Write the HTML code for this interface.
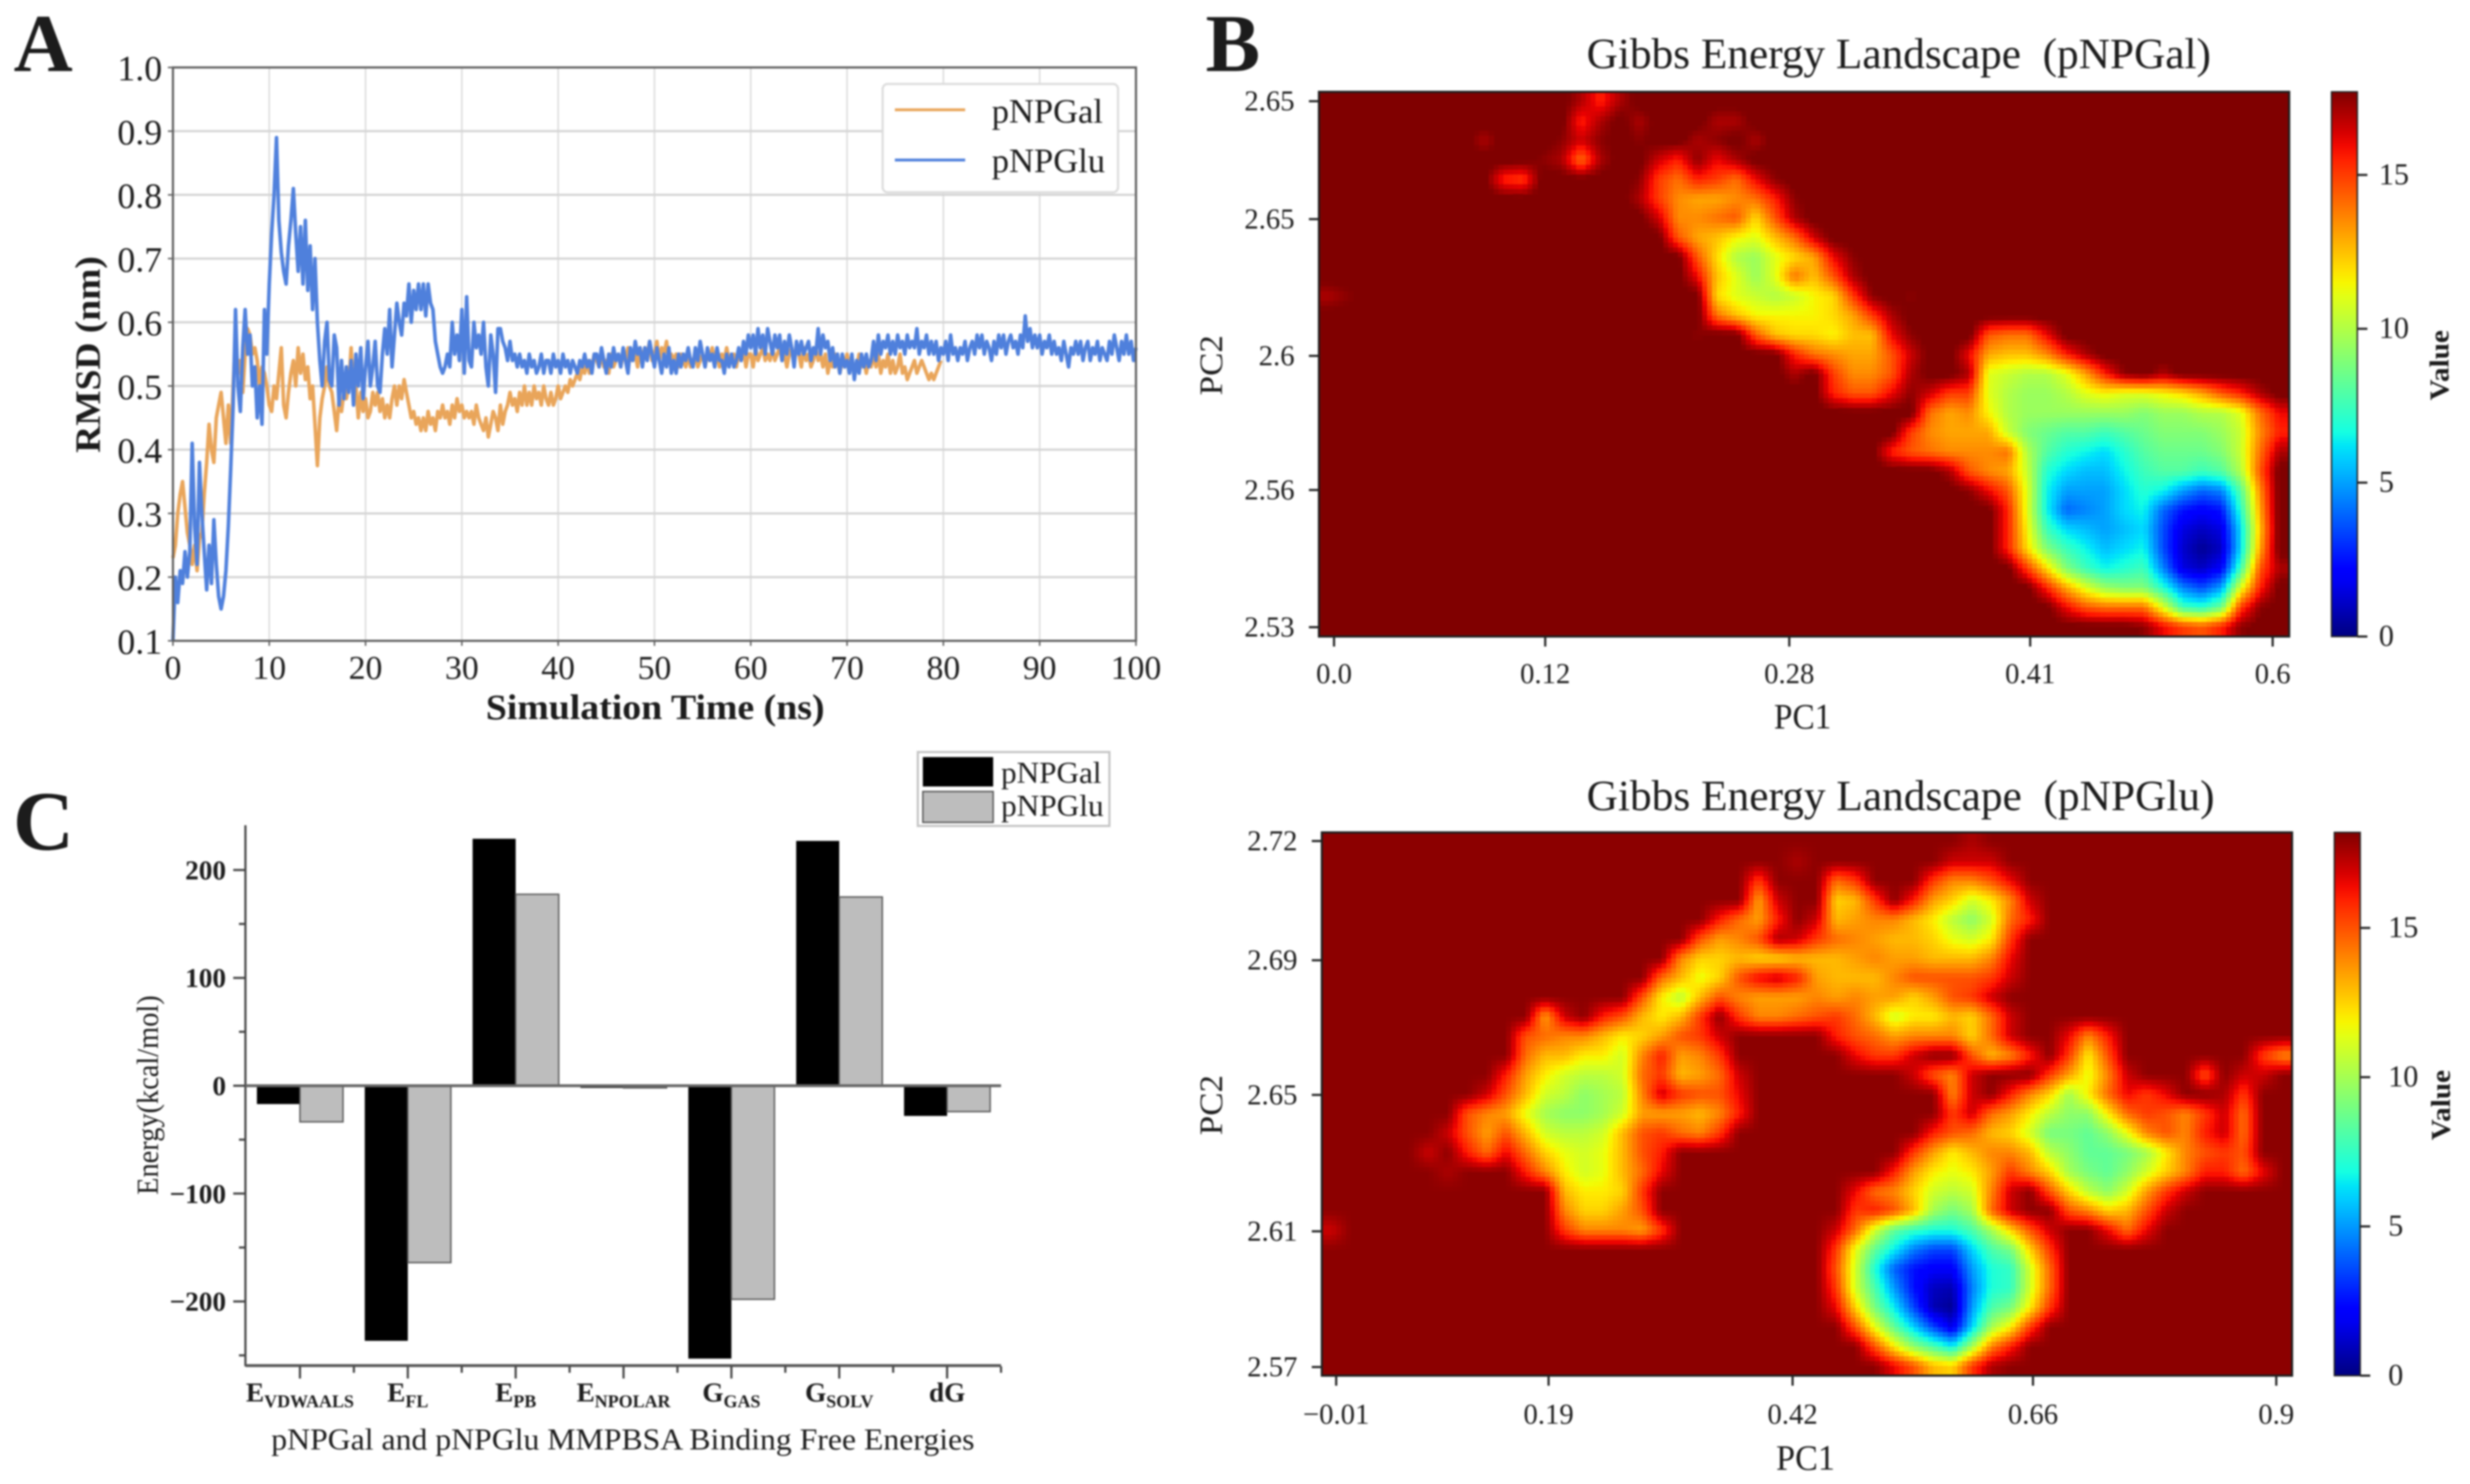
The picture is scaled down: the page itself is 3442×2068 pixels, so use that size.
<!DOCTYPE html>
<html lang="en">
<head>
<meta charset="utf-8">
<title>RMSD, Gibbs energy landscapes and MMPBSA binding energies</title>
<style>
html,body{margin:0;padding:0;background:#fff;width:3442px;height:2068px;overflow:hidden}
svg{display:block;filter:blur(1.3px)}
text{font-family:"Liberation Serif",serif;fill:#1c1c1c}
</style>
</head>
<body>
<svg id="fig" xmlns="http://www.w3.org/2000/svg" width="3442" height="2068" viewBox="0 0 3442 2068">
  <defs>
    <linearGradient id="jet" x1="0" y1="1" x2="0" y2="0"></linearGradient>
  </defs>
  <rect x="0" y="0" width="3442" height="2068" fill="#fff"/>

  <text x="19" y="99" font-size="114" font-weight="bold" fill="#000">A</text>
  <text x="1680" y="99" font-size="114" font-weight="bold" fill="#000">B</text>
  <text x="18" y="1184" font-size="118" font-weight="bold" fill="#000">C</text>

  <g id="panelA"></g>
  <text transform="rotate(-90 122 494)" x="122" y="494" dy="17" text-anchor="middle" font-size="50" font-weight="bold" textLength="274" lengthAdjust="spacingAndGlyphs">RMSD (nm)</text>
  <text x="913" y="1002" text-anchor="middle" font-size="50" font-weight="bold" textLength="472" lengthAdjust="spacingAndGlyphs">Simulation Time (ns)</text>

  <g id="legendA">
    <rect x="1230" y="117" width="328" height="151" rx="7" fill="#fff" stroke="#dcdcdc" stroke-width="3"/>
    <line x1="1247" x2="1345" y1="153" y2="153" stroke="#E9A55A" stroke-width="4"/>
    <text x="1382" y="171" font-size="48" textLength="155" lengthAdjust="spacingAndGlyphs">pNPGal</text>
    <line x1="1247" x2="1345" y1="223" y2="223" stroke="#4F80DC" stroke-width="4"/>
    <text x="1382" y="240" font-size="48" textLength="158" lengthAdjust="spacingAndGlyphs">pNPGlu</text>
  </g>

  <g id="panelC"></g>
  <text transform="rotate(-90 206 1526)" x="206" y="1526" dy="14" text-anchor="middle" font-size="42" fill="#333" textLength="278" lengthAdjust="spacingAndGlyphs">Energy(kcal/mol)</text>
  <text x="868" y="2020" text-anchor="middle" font-size="42" fill="#222" textLength="980" lengthAdjust="spacingAndGlyphs">pNPGal and pNPGlu MMPBSA Binding Free Energies</text>
  <g id="legendC">
    <rect x="1279" y="1048" width="267" height="103" fill="#fff" stroke="#c4c4c4" stroke-width="3"/>
    <rect x="1286" y="1055" width="98" height="41" fill="#000"/>
    <text x="1395" y="1091" font-size="42" textLength="140" lengthAdjust="spacingAndGlyphs">pNPGal</text>
    <rect x="1286" y="1103" width="98" height="43" fill="#bdbdbd" stroke="#555" stroke-width="2"/>
    <text x="1395" y="1137" font-size="42" textLength="143" lengthAdjust="spacingAndGlyphs">pNPGlu</text>
  </g>

  <text x="2211" y="95" font-size="60" textLength="870" lengthAdjust="spacingAndGlyphs" xml:space="preserve">Gibbs Energy Landscape  (pNPGal)</text>
  <g id="heatGal"></g>
  <text x="2512" y="1015" text-anchor="middle" font-size="50" textLength="80" lengthAdjust="spacingAndGlyphs">PC1</text>
  <text transform="rotate(-90 1688 509)" x="1688" y="509" dy="15" text-anchor="middle" font-size="46" textLength="84" lengthAdjust="spacingAndGlyphs">PC2</text>
  <text transform="rotate(-90 3399 509)" x="3399" y="509" dy="13" text-anchor="middle" font-size="38" font-weight="bold" fill="#333" textLength="98" lengthAdjust="spacingAndGlyphs">Value</text>

  <text x="2211" y="1129" font-size="60" textLength="875" lengthAdjust="spacingAndGlyphs" xml:space="preserve">Gibbs Energy Landscape  (pNPGlu)</text>
  <g id="heatGlu"></g>
  <text x="2516" y="2048" text-anchor="middle" font-size="50" textLength="82" lengthAdjust="spacingAndGlyphs">PC1</text>
  <text transform="rotate(-90 1688 1540)" x="1688" y="1540" dy="15" text-anchor="middle" font-size="46" textLength="84" lengthAdjust="spacingAndGlyphs">PC2</text>
  <text transform="rotate(-90 3401 1540)" x="3401" y="1540" dy="13" text-anchor="middle" font-size="38" font-weight="bold" fill="#333" textLength="98" lengthAdjust="spacingAndGlyphs">Value</text>
</svg>

<script>
/* ---------- Panel A data ---------- */
const rmsdTimeStep = 0.25;
const rmsdXTicks = [0,10,20,30,40,50,60,70,80,90,100];
const rmsdYTicks = [0.1,0.2,0.3,0.4,0.5,0.6,0.7,0.8,0.9,1.0];
const rmsdGal = [
.23,.25,.30,.33,.35,.31,.27,.25,.22,.25,.21,.26,.27,.33,.38,.44,.40,.38,.45,.47,
.49,.45,.41,.47,.41,.50,.58,.52,.54,.49,.55,.59,.58,.55,.56,.54,.50,.53,.52,.50,
.47,.46,.50,.48,.52,.56,.47,.45,.49,.52,.54,.50,.56,.52,.55,.51,.53,.48,.50,.44,
.375,.45,.48,.50,.53,.50,.49,.46,.43,.48,.46,.49,.48,.50,.56,.49,.50,.45,.49,.46,
.48,.45,.46,.49,.47,.49,.46,.48,.45,.47,.45,.48,.50,.47,.50,.48,.51,.49,.47,.45,
.46,.44,.45,.43,.45,.43,.46,.44,.45,.43,.46,.45,.47,.45,.46,.44,.47,.45,.48,.46,
.47,.45,.46,.45,.46,.44,.47,.45,.44,.43,.45,.42,.44,.46,.45,.43,.47,.44,.46,.47,
.49,.47,.48,.46,.49,.47,.50,.47,.49,.47,.50,.48,.49,.47,.50,.48,.47,.49,.47,.48,
.50,.48,.49,.50,.49,.51,.50,.51,.52,.51,.53,.52,.54,.52,.53,.55,.54,.53,.55,.53,
.54,.52,.55,.53,.54,.55,.53,.55,.54,.56,.54,.55,.55,.53,.56,.54,.56,.55,.57,.54,
.55,.57,.54,.56,.55,.57,.54,.55,.54,.55,.53,.55,.54,.53,.55,.53,.54,.55,.53,.54,
.55,.53,.55,.54,.56,.54,.55,.53,.55,.54,.56,.54,.54,.55,.53,.55,.54,.56,.53,.55,
.55,.53,.56,.54,.55,.56,.54,.55,.54,.56,.54,.55,.56,.54,.55,.53,.55,.56,.54,.56,
.55,.53,.56,.54,.55,.53,.54,.56,.54,.55,.53,.55,.52,.54,.53,.55,.54,.52,.54,.53,
.55,.53,.54,.52,.53,.55,.53,.54,.52,.54,.53,.55,.53,.55,.52,.54,.53,.55,.52,.54,
.52,.53,.55,.52,.53,.51,.52,.53,.54,.52,.53,.54,.53,.52,.51,.52,.51,.52,.53,.54
];
const rmsdGlu = [
.10,.20,.16,.21,.19,.24,.20,.24,.41,.28,.22,.38,.30,.24,.18,.25,.19,.29,.22,.17,
.15,.17,.21,.28,.37,.47,.62,.50,.46,.56,.62,.55,.58,.50,.53,.45,.50,.44,.62,.55,
.66,.74,.80,.89,.76,.71,.68,.66,.72,.76,.81,.74,.68,.75,.66,.76,.65,.72,.62,.70,
.60,.54,.50,.57,.60,.51,.50,.58,.56,.47,.54,.48,.53,.49,.54,.47,.55,.50,.56,.48,
.53,.57,.50,.53,.57,.50,.49,.55,.59,.55,.62,.53,.58,.63,.60,.58,.63,.61,.66,.60,
.65,.62,.66,.62,.66,.61,.66,.63,.62,.57,.55,.53,.52,.53,.55,.53,.60,.55,.58,.54,
.62,.52,.64,.54,.53,.60,.56,.58,.55,.60,.53,.50,.58,.55,.49,.59,.59,.57,.56,.54,
.57,.54,.55,.53,.55,.53,.54,.52,.55,.53,.54,.52,.53,.55,.52,.54,.54,.52,.55,.53,
.54,.52,.55,.53,.54,.52,.54,.53,.52,.54,.53,.55,.53,.54,.52,.55,.55,.53,.56,.54,
.52,.55,.53,.56,.54,.55,.53,.56,.54,.52,.56,.54,.57,.55,.56,.53,.56,.54,.57,.55,
.53,.56,.54,.52,.55,.53,.56,.52,.54,.52,.55,.53,.55,.54,.56,.54,.53,.56,.54,.57,
.55,.53,.56,.54,.55,.53,.56,.54,.54,.52,.55,.53,.55,.53,.54,.56,.54,.57,.55,.58,
.56,.58,.55,.59,.56,.58,.55,.59,.57,.55,.58,.56,.58,.54,.57,.55,.58,.56,.53,.57,
.55,.57,.55,.56,.57,.54,.56,.55,.59,.55,.58,.56,.57,.54,.56,.53,.55,.52,.55,.53,
.54,.52,.55,.51,.54,.52,.55,.53,.55,.53,.54,.57,.54,.58,.55,.57,.56,.58,.55,.57,
.55,.58,.56,.57,.55,.58,.56,.57,.56,.59,.55,.57,.56,.58,.55,.57,.55,.57,.54,.56,
.55,.57,.54,.58,.55,.56,.54,.56,.55,.57,.54,.56,.57,.55,.58,.56,.58,.55,.57,.56,
.54,.57,.55,.58,.56,.58,.55,.57,.58,.56,.57,.55,.58,.56,.61,.57,.59,.56,.58,.56,
.58,.55,.57,.56,.58,.55,.57,.55,.56,.54,.57,.55,.53,.56,.55,.57,.55,.57,.54,.56,
.57,.54,.56,.55,.57,.54,.56,.55,.54,.57,.55,.58,.56,.54,.57,.55,.58,.55,.57,.54,
.56
];

/* ---------- Panel C data ---------- */
const energyTerms = ["E","E","E","E","G","G","dG"];
const energySubs = ["VDWAALS","FL","PB","NPOLAR","GAS","SOLV",""];
const energyGal = [-17,-236.5,229,-2,-253,227,-28];
const energyGlu = [-33.5,-164,177.5,-2,-198,175,-24];
const energyYTicks = [-200,-100,0,100,200];
const energyYMinorTicks = [-250,-150,-50,50,150];

/* ---------- Panel B tick data ---------- */
const galPc1Ticks = [0,0.135,0.291,0.445,0.6];
const galPc1Labels = ["0.0","0.12","0.28","0.41","0.6"];
const galPc2Ticks = [2.65,2.6231,2.5919,2.5613,2.53];
const galPc2Labels = ["2.65","2.65","2.6","2.56","2.53"];
const gluPc1Ticks = [-0.01,0.1956,0.4318,0.6645,0.9];
const gluPc1Labels = ["\u22120.01","0.19","0.42","0.66","0.9"];
const gluPc2Ticks = [2.72,2.686,2.6476,2.6087,2.57];
const gluPc2Labels = ["2.72","2.69","2.65","2.61","2.57"];
const colorbarTicks = [0,5,10,15];

/* ---------- Panel B energy grids (free energy per cell, 28 rows x 50 columns; unlisted tail cells = saturated) ---------- */
const galEnergy = [
[18,18,18,18,18,18,18,18,18,18,18,18,18,17,15.5,17],
[18,18,18,18,18,18,18,18,18,18,18,18,18,15.5,17,18,17,18,18,18,17,17],
[18,18,18,18,18,18,18,18,17,18,18,18,17.5,16.5,17.5,18,17.5,18,18,17,17.5,18,17],
[18,18,18,18,18,18,18,18,18,18,18,17.5,17,14,17,18,18,16.5,15.5,17.5,16,17],
[18,18,18,18,18,18,18,18,18,15.5,15,18,18,18,18,18,17.5,15,14,15.5,15,14,16,17.5],
[18,18,18,18,18,18,18,18,18,18,18,18,18,18,18,18,17,15,13.5,13,13,13.5,14,15.5,17.5],
[18,18,18,18,18,18,18,18,18,18,18,18,18,18,18,18,18,16.5,13.5,13.5,14,14.5,12,14.5,17],
[18,18,18,18,18,18,18,18,18,18,18,18,18,18,18,18,18,18,14.5,13,12.5,11.5,11,12.5,14,16.5],
[18,18,18,18,18,18,18,18,18,18,18,18,18,18,18,18,18,18,18,14.5,12,10,9.5,11,12,13,16,17.5],
[18,18,18,18,18,18,18,18,18,18,18,18,18,18,18,18,18,18,18,16,12.5,11,9.5,11,14,12.5,14.5,17],
[17,17.5,18,18,18,18,18,18,18,18,18,18,18,18,18,18,18,18,18,18,12,11,10.5,10,10.5,11.5,12,15,17.5,18,17.5],
[18,18,18,18,18,18,18,18,18,18,18,18,18,18,18,18,18,18,18,18,14,12.5,11.5,11.5,11.5,11.5,12,13,15,17],
[18,18,18,18,18,18,18,18,18,18,18,18,18,18,18,18,18,18,18,17.5,18,18,14.5,12.5,12,12,11.5,12.5,12.5,16,17.5,18,18,18,14.5,14,14,16],
[18,18,18,18,18,18,18,18,18,18,18,18,18,18,18,18,18,18,18,18,18,18,18,18,15.5,14,13.5,13,13,14.5,16.5,18,18,16,13,12.5,12.5,13.5,15.5,17],
[18,18,18,18,18,18,18,18,18,18,18,18,18,18,18,18,18,18,18,18,18,18,18,18,17,18,15,13.5,13.5,14.5,17,18,18,17,11,10.5,10,10,11,13,15.5,17.5,18,17],
[18,18,18,18,18,18,18,18,18,18,18,18,18,18,18,18,18,18,18,18,18,18,18,18,18,18,15.5,14.5,14.5,16,17.5,16.5,15,15,11,10,9.5,9.5,10,11,11.5,11,11,11.5,12,13,14.5,15.5,17],
[18,18,18,18,18,18,18,18,18,18,18,18,18,18,18,18,18,18,18,18,18,18,18,18,18,18,18,18,18,18,18,14,13,13.5,11.5,10,9.5,9.5,9.5,9.5,9.5,9.5,9,9.5,9.5,10,10,11,14,16],
[18,18,18,18,18,18,18,18,18,18,18,18,18,18,18,18,18,18,18,18,18,18,18,18,18,18,18,18,18,18,15,13.5,13,13,13,10.5,9,8.5,8,8,7.5,8,8.5,9,9,9,9.5,10.5,13.5,15.5],
[18,18,18,18,18,18,18,18,18,18,18,18,18,18,18,18,18,18,18,18,18,18,18,18,18,18,18,18,18,15.5,14.5,14,13.5,13.5,13.5,14,10,8,7,6.5,6,7,8,8.5,8.5,8.5,9,10.5,14,17],
[18,18,18,18,18,18,18,18,18,18,18,18,18,18,18,18,18,18,18,18,18,18,18,18,18,18,18,18,18,18,18,18,17,14.5,13.5,13,10.5,7,6,5.5,5.5,6.5,7.5,8,8,7.5,8,10,14.5],
[18,18,18,18,18,18,18,18,18,18,18,18,18,18,18,18,18,18,18,18,18,18,18,18,18,18,18,18,18,18,18,18,18,17.5,16,14.5,11,6.5,5,5,5,6,7,6.5,5,4,4.5,8,13.5],
[18,18,18,18,18,18,18,18,18,18,18,18,18,18,18,18,18,18,18,18,18,18,18,18,18,18,18,18,18,18,18,18,18,18,18,15.5,11,6.5,4,4.5,5,6,6.5,4,2.5,2,2.5,7,13],
[18,18,18,18,18,18,18,18,18,18,18,18,18,18,18,18,18,18,18,18,18,18,18,18,18,18,18,18,18,18,18,18,18,18,18,15.5,11.5,7.5,6,5.5,5,5.5,6,3.5,1.5,1,1.5,6,12.5],
[18,18,18,18,18,18,18,18,18,18,18,18,18,18,18,18,18,18,18,18,18,18,18,18,18,18,18,18,18,18,18,18,18,18,18,15.5,12,9,7.5,6.5,5.5,6,6.5,3.5,1.2,0.3,1,6,13],
[18,18,18,18,18,18,18,18,18,18,18,18,18,18,18,18,18,18,18,18,18,18,18,18,18,18,18,18,18,18,18,18,18,18,18,18,15,12,9,7.5,6.5,7,7.5,4.5,1.5,1,2,7.5,14.5,17],
[18,18,18,18,18,18,18,18,18,18,18,18,18,18,18,18,18,18,18,18,18,18,18,18,18,18,18,18,18,18,18,18,18,18,18,18,18,15.5,13,11,9.5,9,9,7,4.5,3.5,5,11,15.5],
[18,18,18,18,18,18,18,18,18,18,18,18,18,18,18,18,18,18,18,18,18,18,18,18,18,18,18,18,18,18,18,18,18,18,18,18,18,18,16,14.5,14,14,14,11,7.5,7,8.5,15,17.5],
[18,18,18,18,18,18,18,18,18,18,18,18,18,18,18,18,18,18,18,18,18,18,18,18,18,18,18,18,18,18,18,18,18,18,18,18,18,18,18,18,18,18,17.5,16,15,14.5,15.5,17.5]
];
const gluEnergy = [
[18,18,18,18,18,18,18,18,18,18,18,18,18,18,18,18,18,18,18,18,18,18,18,18,18,18,18,18,18,18,18,18,18,17.5],
[18,18,18,18,18,18,18,18,18,18,18,18,18,18,18,18,18,18,18,18,18,18,18,18,17.5,18,18,18,18,18,18,18,17,17,17],
[18,18,18,18,18,18,18,18,18,18,18,18,18,18,18,18,18,18,18,18,18,18,15.5,18,18,18,14.5,15.5,18,18,18,15.5,14,14,15,16.5],
[18,18,18,18,18,18,18,18,18,18,18,18,18,18,18,18,18,18,18,18,18,18,13.5,17,18,18,12.5,13,15.5,18,16,13.5,12.5,11,12,14,17],
[18,18,18,18,18,18,18,18,18,18,18,18,18,18,18,18,18,18,18,18,16,14.5,13.5,16,18,17,13,13.5,14,14,13,12,10.5,9.5,11,14.5,16],
[18,18,18,18,18,18,18,18,18,18,18,18,18,18,18,18,18,18,18,15,13.5,14,15,17.5,17,15.5,14.5,14,13.5,13,13,12.5,11.5,11,12,15.5],
[18,18,18,18,18,18,18,18,18,18,18,18,18,18,18,18,18,18,14,12.5,12.5,13,12.5,12.5,13,13,13,13.5,14,13.5,13.5,13,13,13,14,16.5],
[18,18,18,18,18,18,18,18,18,18,18,18,18,18,18,18,18,14.5,13,11.5,12.5,15,16.5,17,16,13.5,13,13,13,14,15,15,15,15,15.5,17],
[18,18,18,18,18,18,18,18,18,18,18,18,18,18,18,18,15,12,10.5,13,15,14,13.5,13.5,13.5,14,13.5,14,13.5,13.5,12.5,13.5,15,15.5,17],
[18,18,18,18,18,18,18,18,18,18,18,13.5,17,18,16,15,13,12,13,15.5,18,15.5,14,14,14.5,15,15.5,14.5,13,11,12,12,13,12.5,14.5,17],
[18,18,18,18,18,18,18,18,18,18,15,14.5,14,14,13,12,12.5,13.5,15,15.5,17,18,18,18,18,18,16,15,14.5,13.5,14,14,14,12.5,14.5,17,18,18,16.5,14,16],
[18,18,18,18,18,18,18,18,18,18,14.5,13,13,12,12,11,14,16,13.5,14,15.5,18,18,18,18,18,18,16.5,15.5,15.5,17,18,18,15,13,14,16,18,15.5,12,15,18,18,18,18,18,18,18,15.5,14],
[18,18,18,18,18,18,18,18,18,16,13.5,12,11,10.5,10.5,11,14.5,15.5,13,13.5,14.5,17,18,18,18,18,18,18,18,18,17,15,14,17,18,18,18,15.5,13.5,11.5,14,17,18,18,18,15,18,17,17],
[18,18,18,18,18,18,18,18,17,15,13,11,10.5,9.5,10,10.5,14,17,15.5,15,15,16.5,18,18,18,18,18,18,18,18,18,18,14,17,18,16,14,12.5,10,12,14.5,16.5,15.5,16.5,18,18,17.5,15.5],
[18,18,18,18,18,18,18,15,14,13.5,11.5,10,9.5,9.5,10,11,13.5,13.5,13.5,13,14,16,18,18,18,18,18,18,18,18,18,18,15.5,17,14.5,13.5,12,10.5,9.5,9.5,12,14.5,15.5,15,14,15.5,17,14.5],
[18,18,18,18,18,18,17,15,13.5,15,13,11,10.5,10.5,11,13,15,15.5,14.5,14,15.5,18,18,18,18,18,18,18,18,18,18,16,15,14.5,13,12.5,11,9,9,8.5,9.5,11.5,14,15,14,16,17,14.5],
[18,18,18,18,18,17,18,16,14.5,16.5,14.5,12.5,11.5,11,11.5,13,15,16,18,18,18,18,18,18,18,18,18,18,18,18,15.5,13.5,12,13,14,14,13,10.5,9.5,8.5,8.5,9,10,12,14,15,15.5,15],
[18,18,18,18,18,18,17.5,18,18,18,16,14,12,11,11.5,13,14.5,16.5,18,18,18,18,18,18,18,18,18,18,18,16,13.5,12,11.5,12,13.5,15.5,14,12.5,10,9,8.5,9.5,11,12.5,14,16,16,14.5,16.5],
[18,18,18,18,18,18,18,18,18,18,18,18,13,12,12,12.5,15.5,18,18,18,18,18,18,18,18,18,18,16.5,14.5,14,12.5,11,10.5,11,14,17,18,15,12.5,10.5,9.5,11,13.5,15.5,17],
[18,18,18,18,18,18,18,18,18,18,18,18,14,12.5,12.5,13.5,15,18,18,18,18,18,18,18,18,18,18,15.5,16,15,13,10,9,10,14.5,17,18,18,15,14,12.5,13,15,17],
[17,18,18,18,18,18,18,18,18,18,18,18,15.5,14,14,14,13.5,15.5,18,18,18,18,18,18,18,18,17,14.5,11,8.5,7.5,7,7,8,10,12.5,15,17,18,18,16.5,14.5,16.5],
[18,18,18,18,18,18,18,18,18,18,18,18,18,18,18,18,18,18,18,18,18,18,18,18,18,18,15.5,11.5,8.5,6.5,4.5,3.5,3.5,6,8,9,12.5,15.5],
[18,18,18,18,18,18,18,18,18,18,18,18,18,18,18,18,18,18,18,18,18,18,18,18,18,18,15,11,7,4,2.5,2,2,5,7,7.5,11,14.5],
[18,18,18,18,18,18,18,18,18,18,18,18,18,18,18,18,18,18,18,18,18,18,18,18,18,18,15.5,11,8,5,2.5,1,0.8,4.5,7,7.5,11,14.5],
[18,18,18,18,18,18,18,18,18,18,18,18,18,18,18,18,18,18,18,18,18,18,18,18,18,18,16.5,12.5,9,6.5,3.5,0.8,0.3,5,8,9,12,15.5],
[18,18,18,18,18,18,18,18,18,18,18,18,18,18,18,18,18,18,18,18,18,18,18,18,18,18,18,15,11.5,8.5,6,3.5,1.5,6,10,12,15.5],
[18,18,18,18,18,18,18,18,18,18,18,18,18,18,18,18,18,18,18,18,18,18,18,18,18,18,18,18,15,12,9.5,8,6.5,10,14,16],
[18,18,18,18,18,18,18,18,18,18,18,18,18,18,18,18,18,18,18,18,18,18,18,18,18,18,18,18,18,16.5,15,13,12.5,15.5,17.5]
];

/* ---------- helpers ---------- */
const NS = "http://www.w3.org/2000/svg";
function mk(tag, attrs, parent) {
  const el = document.createElementNS(NS, tag);
  for (const k in attrs) el.setAttribute(k, attrs[k]);
  parent.appendChild(el);
  return el;
}
function clamp01(v) { return Math.max(0, Math.min(1, v)); }
function jet(t) {
  t = clamp01(t);
  let r, g, b;
  r = t < 0.35 ? 0 : t < 0.66 ? (t - 0.35) / 0.31 : t < 0.89 ? 1 : 1 - 0.5 * (t - 0.89) / 0.11;
  g = t < 0.125 ? 0 : t < 0.375 ? (t - 0.125) / 0.25 : t < 0.64 ? 1 : t < 0.91 ? 1 - (t - 0.64) / 0.27 : 0;
  b = t < 0.11 ? 0.5 + 0.5 * t / 0.11 : t < 0.34 ? 1 : t < 0.65 ? 1 - (t - 0.34) / 0.31 : 0;
  return "rgb(" + Math.round(r * 255) + "," + Math.round(g * 255) + "," + Math.round(b * 255) + ")";
}

/* colorbar gradient */
(function () {
  const grad = document.getElementById("jet");
  for (let i = 0; i <= 40; i++) {
    mk("stop", { offset: (i / 40), "stop-color": jet(i / 40) }, grad);
  }
})();

/* ---------- Panel A ---------- */
(function () {
  const g = document.getElementById("panelA");
  const L = 241, R = 1583, T = 94, B = 893;
  const x = t => L + (t - 0) / 100 * (R - L);
  const y = v => B - (v - 0.1) / 0.9 * (B - T);

  rmsdXTicks.forEach(t => {
    if (t > 0 && t < 100) {
      const gl = mk("line", { x1: x(t), x2: x(t), y1: T, y2: B, stroke: "#dadada", "stroke-width": 2 }, g);
      
      
    }
    const tk = mk("line", { x1: x(t), x2: x(t), y1: B, y2: B + 7, stroke: "#555", "stroke-width": 2 }, g);
    
    
    const lb = mk("text", { x: x(t), y: 946, "text-anchor": "middle", "font-size": 47 }, g);
    
    
    lb.textContent = String(t);
  });
  rmsdYTicks.forEach(v => {
    if (v > 0.1 && v < 1.0) {
      const gl = mk("line", { x1: L, x2: R, y1: y(v), y2: y(v), stroke: "#d4d4d4", "stroke-width": 3 }, g);
      
      
    }
    const tk = mk("line", { x1: L - 7, x2: L, y1: y(v), y2: y(v), stroke: "#555", "stroke-width": 2 }, g);
    
    
    const lb = mk("text", { x: 226, y: y(v) + 18, "text-anchor": "end", "font-size": 50 }, g);
    
    
    lb.textContent = v.toFixed(1);
  });

  function linePath(vals) {
    return vals.map((v, i) => (i ? "L" : "M") + x(i * rmsdTimeStep).toFixed(1) + " " + y(v).toFixed(1)).join("");
  }
  const pGal = mk("path", { d: linePath(rmsdGal), fill: "none", stroke: "#E9A55A", "stroke-width": 5, "stroke-linejoin": "round" }, g);
  
  
  const pGlu = mk("path", { d: linePath(rmsdGlu), fill: "none", stroke: "#4F80DC", "stroke-width": 5, "stroke-linejoin": "round" }, g);
  
  

  const fr = mk("rect", { x: L, y: T, width: R - L, height: B - T, fill: "none", stroke: "#5f5f5f", "stroke-width": 3 }, g);
  
  
})();

/* ---------- Panel C ---------- */
(function () {
  const g = document.getElementById("panelC");
  const AX = 342, AR = 1395, AT = 1150, AB = 1904, ZERO = 1513, PX = 1.503;
  const y = v => ZERO - v * PX;
  const cx = i => 418 + i * 150.3;
  const W = 60;

  energyGal.forEach((v, i) => {
    const r = mk("rect", { x: cx(i) - W, y: Math.min(y(v), ZERO), width: W, height: Math.abs(v * PX), fill: "#000" }, g);
    
    
  });
  energyGlu.forEach((v, i) => {
    const r = mk("rect", { x: cx(i), y: Math.min(y(v), ZERO), width: W, height: Math.abs(v * PX), fill: "#bdbdbd", stroke: "#5a5a5a", "stroke-width": 2 }, g);
    
    
  });

  const ya = mk("line", { x1: AX, x2: AX, y1: AT, y2: AB, stroke: "#444", "stroke-width": 3 }, g);
  
  
  const xa = mk("line", { x1: AX, x2: AR, y1: AB - 1, y2: AB - 1, stroke: "#555", "stroke-width": 4 }, g);
  
  
  const z = mk("line", { x1: AX, x2: AR, y1: ZERO, y2: ZERO, stroke: "#666", "stroke-width": 4 }, g);
  
  

  energyYTicks.forEach(v => {
    const t = mk("line", { x1: AX - 17, x2: AX, y1: y(v), y2: y(v), stroke: "#444", "stroke-width": 3 }, g);
    
    
    const lb = mk("text", { x: 315, y: y(v) + 13, "text-anchor": "end", "font-size": 38, "font-weight": "bold" }, g);
    
    
    lb.textContent = String(v).replace("-", "\u2212");
  });
  energyYMinorTicks.forEach(v => {
    const t = mk("line", { x1: AX - 9, x2: AX, y1: y(v), y2: y(v), stroke: "#444", "stroke-width": 3 }, g);
    
    
  });

  energyTerms.forEach((term, i) => {
    const t = mk("line", { x1: cx(i), x2: cx(i), y1: AB, y2: AB + 17, stroke: "#444", "stroke-width": 3 }, g);
    
    
    const m = mk("line", { x1: cx(i) + 75.15, x2: cx(i) + 75.15, y1: AB, y2: AB + 9, stroke: "#444", "stroke-width": 3 }, g);
    
    
    const lb = mk("text", { x: cx(i), y: 1953, "text-anchor": "middle", "font-size": 38, "font-weight": "bold" }, g);
    
    
    const a = mk("tspan", {}, lb);
    a.textContent = term;
    if (energySubs[i]) {
      const s = mk("tspan", { dy: 8, "font-size": 25 }, lb);
      s.textContent = energySubs[i];
    }
  });
})();

/* ---------- Panel B ---------- */
function drawLandscape(cfg) {
  const g = cfg.g, grid = cfg.grid, rows = grid.length, cols = 50, vmax = cfg.vmax, S = 4;
  const L = cfg.L, R = cfg.R, T = cfg.T, B = cfg.B;
  const bg = mk("rect", { x: L, y: T, width: R - L, height: B - T, fill: jet(1) }, g);
  
  
  const val = (r, c) => {
    r = Math.max(0, Math.min(rows - 1, r));
    c = Math.max(0, Math.min(cols - 1, c));
    const v = grid[r][c];
    return v === undefined ? 18 : v;
  };
  const cw = (R - L) / (cols * S), ch = (B - T) / (rows * S);
  const colX = i => L + i * cw, rowY = j => T + j * ch;
  const frag = document.createDocumentFragment();
  for (let j = 0; j < rows * S; j++) {
    const gy = (j + 0.5) / S - 0.5, r0 = Math.floor(gy), fy = gy - r0;
    for (let i = 0; i < cols * S; i++) {
      const gx = (i + 0.5) / S - 0.5, c0 = Math.floor(gx), fx = gx - c0;
      const v = (val(r0, c0) * (1 - fx) + val(r0, c0 + 1) * fx) * (1 - fy) +
                (val(r0 + 1, c0) * (1 - fx) + val(r0 + 1, c0 + 1) * fx) * fy;
      if (v >= vmax - 0.05) continue;
      const cell = mk("rect", { x: colX(i).toFixed(1), y: rowY(j).toFixed(1), width: (cw + 0.7).toFixed(1), height: (ch + 0.7).toFixed(1), fill: jet(v / vmax) }, frag);
      
      
    }
  }
  g.appendChild(frag);
  const fr = mk("rect", { x: L, y: T, width: R - L, height: B - T, fill: "none", stroke: "#1e1e1e", "stroke-width": 3 }, g);
  
  

  cfg.xTicks.forEach((v, i) => {
    const px = cfg.x(v);
    const t = mk("line", { x1: px, x2: px, y1: B, y2: B + 14, stroke: "#222", "stroke-width": 3 }, g);
    
    
    const lb = mk("text", { x: px, y: cfg.xLabelY, "text-anchor": "middle", "font-size": 40 }, g);
    
    
    lb.textContent = cfg.xLabels[i];
  });
  cfg.yTicks.forEach((v, i) => {
    const py = cfg.y(v);
    const t = mk("line", { x1: L - 14, x2: L, y1: py, y2: py, stroke: "#222", "stroke-width": 3 }, g);
    
    
    const lb = mk("text", { x: L - 34, y: py + 13, "text-anchor": "end", "font-size": 40 }, g);
    
    
    lb.textContent = cfg.yLabels[i];
  });

  const cb = mk("rect", { x: cfg.cbL, y: T, width: 36, height: B - T, fill: "url(#jet)", stroke: "#222", "stroke-width": 2 }, g);
  
  
  colorbarTicks.forEach(v => {
    const py = B - v / vmax * (B - T);
    const t = mk("line", { x1: cfg.cbL + 36, x2: cfg.cbL + 50, y1: py, y2: py, stroke: "#222", "stroke-width": 3 }, g);
    
    
    const lb = mk("text", { x: cfg.cbLabelX, y: py + 13, "font-size": 42 }, g);
    
    
    lb.textContent = String(v);
  });
}

drawLandscape({
  g: document.getElementById("heatGal"), grid: galEnergy, vmax: 17.7,
  L: 1838, R: 3190, T: 128, B: 887,
  x: v => 1859 + v * 2180, y: v => 874 - (v - 2.53) * 6108,
  xTicks: galPc1Ticks, xLabels: galPc1Labels, yTicks: galPc2Ticks, yLabels: galPc2Labels,
  xLabelY: 952, cbL: 3249, cbLabelX: 3315
});
drawLandscape({
  g: document.getElementById("heatGlu"), grid: gluEnergy, vmax: 18.2,
  L: 1842, R: 3194, T: 1160, B: 1917,
  x: v => 1862 + (v + 0.01) * 1439.6, y: v => 1905 - (v - 2.57) * 4886.7,
  xTicks: gluPc1Ticks, xLabels: gluPc1Labels, yTicks: gluPc2Ticks, yLabels: gluPc2Labels,
  xLabelY: 1984, cbL: 3253, cbLabelX: 3328
});
</script>
</body>
</html>
